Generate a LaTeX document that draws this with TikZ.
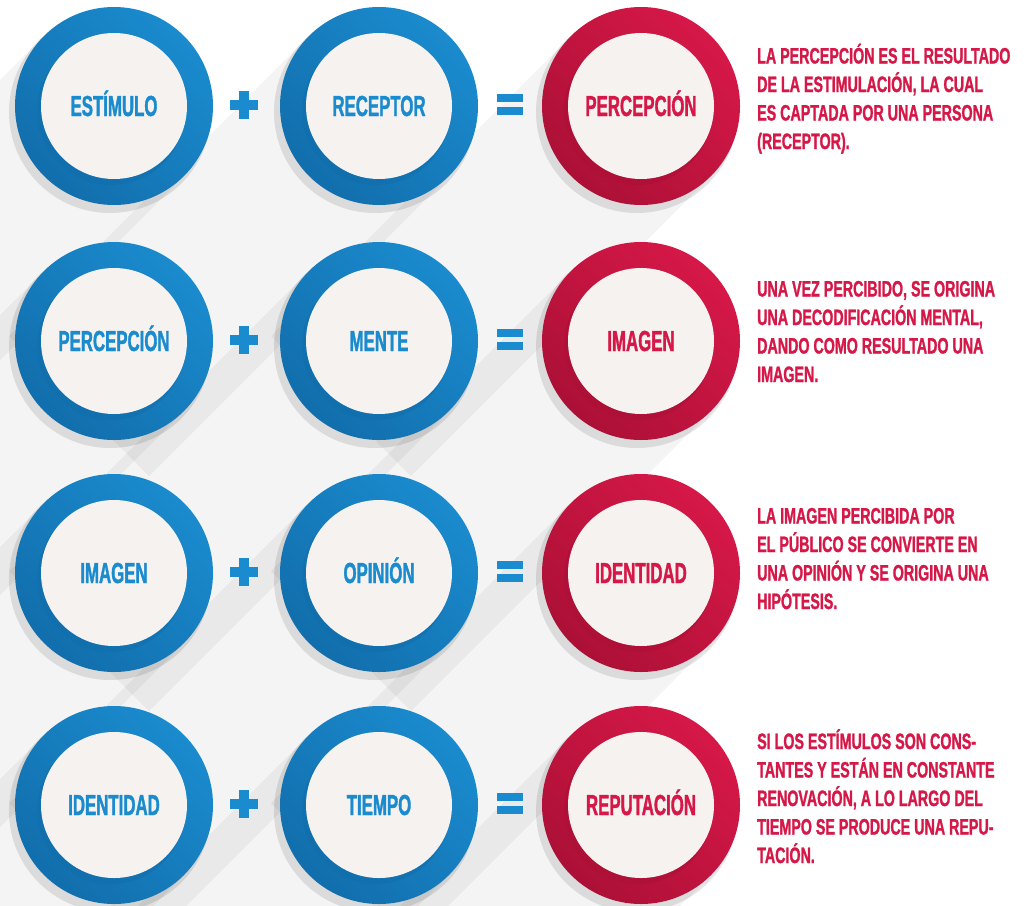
\documentclass[tikz,border=0pt]{standalone}
\usepackage{fontspec}
\newfontfamily\labelfont[FakeStretch=0.58,FakeBold=1.2]{Liberation Sans}
\newfontfamily\notefont[FakeStretch=0.64,FakeBold=1.2]{Liberation Sans}
\definecolor{ringblue}{RGB}{26,139,206}
\definecolor{ringbluedark}{RGB}{18,110,172}
\definecolor{ringred}{RGB}{214,24,72}
\definecolor{ringreddark}{RGB}{172,16,54}
\definecolor{disc}{RGB}{245,242,240}

\begin{document}
\begin{tikzpicture}[x=1pt,y=-1pt,
    lbl/.style={font=\labelfont\bfseries\fontsize{29}{30}\selectfont, anchor=base, inner sep=0pt},
    bluelbl/.style={lbl, text=ringblue},
    redlbl/.style={lbl, text=ringred},
    note/.style={font=\notefont\bfseries\fontsize{22.3}{28.5}\selectfont, text=ringred,
                 align=left, anchor=base west, inner sep=0pt},
    longshadow/.style={fill=black, opacity=0.045},
    pics/ring/.style={code={
        \fill[black, opacity=0.10] (-4,6) circle (101);
        \shade[top color=#1, middle color=#1, bottom color=#1dark, shading angle=-45] (0,0) circle (99);
        \fill[#1dark, opacity=0.6] (-3,5) circle (74);
        \fill[disc] (0,0) circle (73);
    }}]
    \useasboundingbox (0,0) rectangle (1032,905);
    \fill[white] (0,0) rectangle (1032,905);

    % long shadows
    \foreach \cx/\cy in {114/106,379/106,641/106,114/341,379/341,641/341,
                         114/573,379/573,641/573,114/805,379/805,641/805}
        \fill[longshadow] (\cx+70,\cy+70) -- ++(-300,300) -- ++(-140,-140) -- (\cx-70,\cy-70) -- cycle;

    % row 1
    \pic at (114,106) {ring=ringblue};
    \pic at (379,106) {ring=ringblue};
    \pic at (641,106) {ring=ringred};
    \node[bluelbl] (estimulo) at (114,116) {ESTÍMULO};
    \node[bluelbl] (receptor) at (379,116) {RECEPTOR};
    \node[redlbl] (percepcion) at (641,116) {PERCEPCIÓN};
    \fill[ringblue] (230,100) rectangle (258,110);
    \fill[ringblue] (239,91) rectangle (249,119);
    \fill[ringblue] (497,94) rectangle (523,102);
    \fill[ringblue] (497,107) rectangle (523,115);
    \node[note] (nota1) at (757,149) {LA PERCEPCIÓN ES EL RESULTADO\\DE LA ESTIMULACIÓN, LA CUAL\\ES CAPTADA POR UNA PERSONA\\(RECEPTOR).};

    % row 2
    \pic at (114,341) {ring=ringblue};
    \pic at (379,341) {ring=ringblue};
    \pic at (641,341) {ring=ringred};
    \node[bluelbl] (percepcion2) at (114,351) {PERCEPCIÓN};
    \node[bluelbl] (mente) at (379,351) {MENTE};
    \node[redlbl] (imagen) at (641,351) {IMAGEN};
    \fill[ringblue] (230,335) rectangle (258,345);
    \fill[ringblue] (239,326) rectangle (249,354);
    \fill[ringblue] (497,329) rectangle (523,337);
    \fill[ringblue] (497,342) rectangle (523,350);
    \node[note] (nota2) at (757,382) {UNA VEZ PERCIBIDO, SE ORIGINA\\UNA DECODIFICACIÓN MENTAL,\\DANDO COMO RESULTADO UNA\\IMAGEN.};

    % row 3
    \pic at (114,573) {ring=ringblue};
    \pic at (379,573) {ring=ringblue};
    \pic at (641,573) {ring=ringred};
    \node[bluelbl] (imagen3) at (114,583) {IMAGEN};
    \node[bluelbl] (opinion) at (379,583) {OPINIÓN};
    \node[redlbl] (identidad) at (641,583) {IDENTIDAD};
    \fill[ringblue] (230,567) rectangle (258,577);
    \fill[ringblue] (239,558) rectangle (249,586);
    \fill[ringblue] (497,561) rectangle (523,569);
    \fill[ringblue] (497,574) rectangle (523,582);
    \node[note] (nota3) at (757,609) {LA IMAGEN PERCIBIDA POR\\EL PÚBLICO SE CONVIERTE EN\\UNA OPINIÓN Y SE ORIGINA UNA\\HIPÓTESIS.};

    % row 4
    \pic at (114,805) {ring=ringblue};
    \pic at (379,805) {ring=ringblue};
    \pic at (641,805) {ring=ringred};
    \node[bluelbl] (identidad4) at (114,815) {IDENTIDAD};
    \node[bluelbl] (tiempo) at (379,815) {TIEMPO};
    \node[redlbl] (reputacion) at (641,815) {REPUTACIÓN};
    \fill[ringblue] (230,799) rectangle (258,809);
    \fill[ringblue] (239,790) rectangle (249,818);
    \fill[ringblue] (497,793) rectangle (523,801);
    \fill[ringblue] (497,806) rectangle (523,814);
    \node[note] (nota4) at (757,863) {SI LOS ESTÍMULOS SON CONS-\\TANTES Y ESTÁN EN CONSTANTE\\RENOVACIÓN, A LO LARGO DEL\\TIEMPO SE PRODUCE UNA REPU-\\TACIÓN.};
\end{tikzpicture}
\end{document}
